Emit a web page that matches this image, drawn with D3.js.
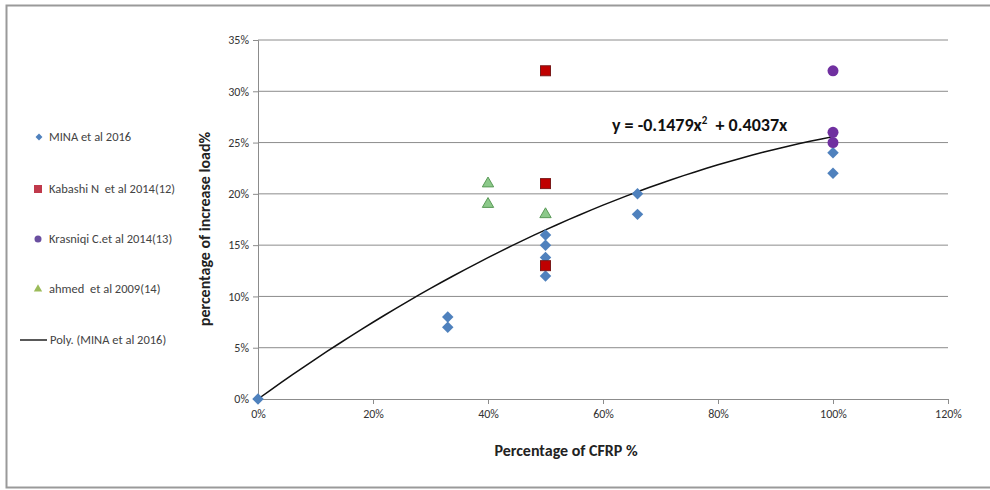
<!DOCTYPE html>
<html>
<head>
<meta charset="utf-8">
<script src="https://cdn.jsdelivr.net/npm/d3@7"></script>
<style>
  body { margin: 0; background: #fff; }
  text { font-family: Carlito, "Liberation Sans", "Open Sans", sans-serif; white-space: pre; }
</style>
</head>
<body>
<svg width="990" height="490"></svg>
<script>
// values (fractions: 0.5 = 50%)
const minaX = [0, 0.33, 0.33, 0.5, 0.5, 0.5, 0.5, 0.66, 0.66, 1, 1],
    minaY = [0, 0.08, 0.07, 0.16, 0.15, 0.138, 0.12, 0.20, 0.18, 0.24, 0.22];
const kabashiX = [0.5, 0.5, 0.5],
    kabashiY = [0.32, 0.21, 0.13];
const krasniqiX = [1, 1, 1],
    krasniqiY = [0.32, 0.26, 0.25];
const ahmedX = [0.4, 0.4, 0.5],
    ahmedY = [0.21, 0.19, 0.18];
const polyA = -0.1479, polyB = 0.4037;
const xTicks = [0, 0.2, 0.4, 0.6, 0.8, 1, 1.2];
const yTicks = [0, 0.05, 0.1, 0.15, 0.2, 0.25, 0.3, 0.35];
const legendLabels = ["MINA et al 2016", "Kabashi N  et al 2014(12)", "Krasniqi C.et al 2014(13)",
    "ahmed  et al 2009(14)", "Poly. (MINA et al 2016)"];

const svg = d3.select("svg");
const plot = { left: 258, right: 948, top: 40, bottom: 399 };

const x = d3.scaleLinear().domain([0, 1.2]).range([plot.left, plot.right]);
const y = d3.scaleLinear().domain([0, 0.35]).range([plot.bottom, plot.top]);

// outer frame
svg.append("rect")
    .attr("x", 6.5).attr("y", 5.5).attr("width", 990).attr("height", 482)
    .attr("fill", "none").attr("stroke", "#9a9a9a").attr("stroke-width", 2);

// gridlines
svg.append("g")
    .selectAll("line")
    .data(yTicks.slice(1))
    .join("line")
    .attr("x1", plot.left).attr("x2", plot.right)
    .attr("y1", d => y(d)).attr("y2", d => y(d))
    .attr("stroke", "#8c8c8c").attr("stroke-width", 1);

const fmt = d3.format(".0%");

const yAxis = svg.append("g")
    .attr("transform", `translate(${plot.left},0)`)
    .call(d3.axisLeft(y).tickValues(yTicks).tickFormat(fmt).tickSize(5).tickPadding(4));
const xAxis = svg.append("g")
    .attr("transform", `translate(0,${plot.bottom})`)
    .call(d3.axisBottom(x).tickValues(xTicks).tickFormat(fmt).tickSize(5).tickPadding(5));
[yAxis, xAxis].forEach(g => {
  g.select(".domain").attr("stroke", "#8c8c8c");
  g.selectAll(".tick line").attr("stroke", "#8c8c8c");
  g.selectAll("text").attr("fill", "#333").attr("font-size", 12);
});

// trendline
const curve = d3.range(0, 1.0001, 0.02).map(v => [v, polyA * v * v + polyB * v]);
svg.append("path")
    .datum(curve)
    .attr("d", d3.line().x(d => x(d[0])).y(d => y(d[1])))
    .attr("fill", "none").attr("stroke", "#111").attr("stroke-width", 1.5);

const zip = (xs, ys) => xs.map((v, i) => [v, ys[i]]);

svg.append("g").selectAll("path")
    .data(zip(ahmedX, ahmedY))
    .join("path")
    .attr("transform", d => `translate(${x(d[0])},${y(d[1])})`)
    .attr("d", d3.symbol(d3.symbolTriangle, 56))
    .attr("fill", "#8cc98a").attr("stroke", "#5a9a58");

svg.append("g").selectAll("path")
    .data(zip(minaX, minaY))
    .join("path")
    .attr("transform", d => `translate(${x(d[0])},${y(d[1])}) rotate(45)`)
    .attr("d", d3.symbol(d3.symbolSquare, 66))
    .attr("fill", "#4f81bd");

svg.append("g").selectAll("rect")
    .data(zip(kabashiX, kabashiY))
    .join("rect")
    .attr("x", d => x(d[0]) - 5).attr("y", d => y(d[1]) - 5)
    .attr("width", 10).attr("height", 10)
    .attr("fill", "#c00000").attr("stroke", "#7a1a1a");

svg.append("g").selectAll("circle")
    .data(zip(krasniqiX, krasniqiY))
    .join("circle")
    .attr("cx", d => x(d[0])).attr("cy", d => y(d[1]))
    .attr("r", 5.5)
    .attr("fill", "#7030a0");

// equation
const eq = svg.append("text")
    .attr("x", 612).attr("y", 131)
    .attr("font-size", 18).attr("font-weight", "bold").attr("fill", "#111");
eq.append("tspan").text("y = -0.1479x");
eq.append("tspan").attr("font-size", 11).attr("dy", -7).text("2");
eq.append("tspan").attr("dy", 7).text("  + 0.4037x");

// axis titles
svg.append("text")
    .attr("x", 566).attr("y", 456)
    .attr("text-anchor", "middle")
    .attr("font-size", 16).attr("font-weight", "bold").attr("fill", "#222")
    .text("Percentage of CFRP %");
svg.append("text")
    .attr("transform", "translate(210,229) rotate(-90)")
    .attr("text-anchor", "middle")
    .attr("font-size", 16).attr("font-weight", "bold").attr("fill", "#222")
    .text("percentage of increase load%");

// legend
const legY = [137, 189, 239, 289, 340];
const leg = svg.append("g");
leg.selectAll("text")
    .data(legendLabels)
    .join("text")
    .attr("x", (d, i) => i === 4 ? 50 : 49)
    .attr("y", (d, i) => legY[i] + 4)
    .attr("font-size", 12.5).attr("fill", "#444")
    .text(d => d);
leg.append("path").attr("transform", `translate(39,${legY[0]}) rotate(45)`)
    .attr("d", d3.symbol(d3.symbolSquare, 24)).attr("fill", "#4f81bd");
leg.append("rect").attr("x", 34).attr("y", legY[1] - 4).attr("width", 8).attr("height", 8)
    .attr("fill", "#c0394b");
leg.append("circle").attr("cx", 38).attr("cy", legY[2]).attr("r", 3.5).attr("fill", "#6a4fa0");
leg.append("path").attr("transform", `translate(38,${legY[3]})`)
    .attr("d", d3.symbol(d3.symbolTriangle, 30)).attr("fill", "#9bbb59");
leg.append("line").attr("x1", 20).attr("x2", 47).attr("y1", legY[4]).attr("y2", legY[4])
    .attr("stroke", "#222").attr("stroke-width", 1.5);
</script>
</body>
</html>
